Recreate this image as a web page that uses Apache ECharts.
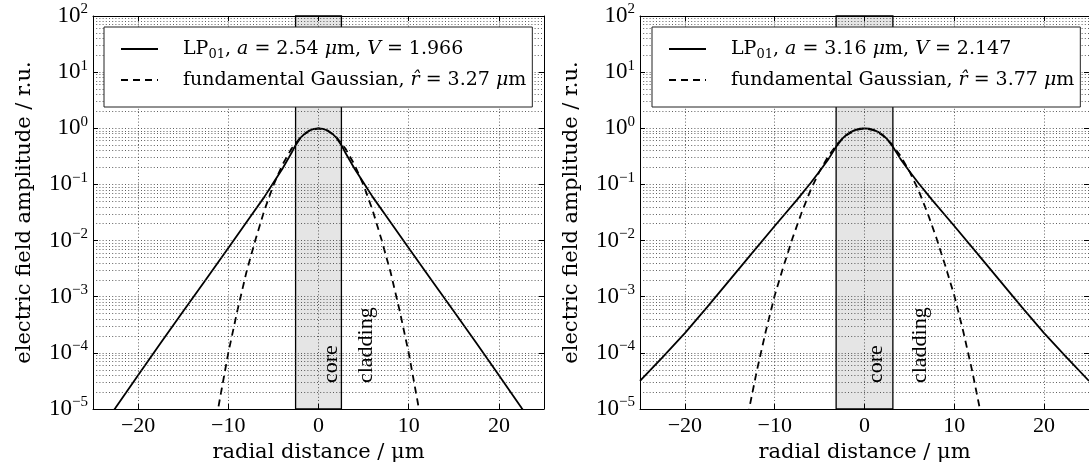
<!DOCTYPE html>
<html><head><meta charset="utf-8">
<script src="https://cdn.jsdelivr.net/npm/echarts@6/dist/echarts.min.js"></script>
<style>html,body{margin:0;padding:0;background:#fff}#c{width:1089px;height:468px}</style>
</head><body><div id="c"></div>
<script>
// ---------------- data ----------------
// left panel: LP01 mode, a = 2.54 um, V = 1.966
const leftR = [-25,-22.5,-20,-17.5,-15,-12.5,-10,-7.5,-6,-5,-4,-3,-2.54,-2,-1.5,-1,-0.5,0,0.5,1,1.5,2,2.54,3,4,5,6,7.5,10,12.5,15,17.5,20,22.5,25];
const leftLP = [2.8e-6,1.05e-5,4.0e-5,1.5e-4,5.5e-4,2.0e-3,7.4e-3,0.0275,0.060,0.107,0.19,0.363,0.50,0.672,0.808,0.913,0.978,1,0.978,0.913,0.808,0.672,0.50,0.363,0.19,0.107,0.060,0.0275,7.4e-3,2.0e-3,5.5e-4,1.5e-4,4.0e-5,1.05e-5,2.8e-6];
// left panel: fundamental Gaussian, r^ = 3.27 um
const leftGaussR = [-12,-11,-10,-9,-8,-7,-6,-5,-4,-3,-2,-1,0,1,2,3,4,5,6,7,8,9,10,11,12];
const leftGauss = [1.6e-6,1.32e-5,1.0e-4,5.6e-4,2.7e-3,0.0102,0.0347,0.0966,0.224,0.431,0.689,0.910,1,0.910,0.689,0.431,0.224,0.0966,0.0347,0.0102,2.7e-3,5.6e-4,1.0e-4,1.32e-5,1.6e-6];
// right panel: LP01 mode, a = 3.16 um, V = 2.147
const rightR = [-25,-22.5,-20,-17.5,-15,-12.5,-10,-7.5,-6,-5,-4,-3.16,-2.5,-2,-1.5,-1,-0.5,0,0.5,1,1.5,2,2.5,3.16,4,5,6,7.5,10,12.5,15,17.5,20,22.5,25];
const rightLP = [3.16e-5,8.3e-5,2.24e-4,6.6e-4,2.0e-3,6.03e-3,0.0182,0.0537,0.106,0.172,0.285,0.468,0.648,0.766,0.865,0.939,0.985,1,0.985,0.939,0.865,0.766,0.648,0.468,0.285,0.172,0.106,0.0537,0.0182,6.03e-3,2.0e-3,6.6e-4,2.24e-4,8.3e-5,3.16e-5];
// right panel: fundamental Gaussian, r^ = 3.77 um
const rightGaussR = [-14,-13,-12,-11,-10,-9,-8,-7,-6,-5,-4,-3,-2,-1,0,1,2,3,4,5,6,7,8,9,10,11,12,13,14];
const rightGauss = [1.1e-6,7.6e-6,4.7e-5,2.4e-4,1.05e-3,3.55e-3,0.0112,0.0316,0.0794,0.172,0.324,0.531,0.755,0.931,1,0.931,0.755,0.531,0.324,0.172,0.0794,0.0316,0.0112,3.55e-3,1.05e-3,2.4e-4,4.7e-5,7.6e-6,1.1e-6];
// core radii
const coreRadius = [2.54, 3.16];
// series names and legend texts
const seriesNames = [
  ['LP01, a = 2.54 μm, V = 1.966', 'fundamental Gaussian, r̂ = 3.27 μm'],
  ['LP01, a = 3.16 μm, V = 2.147', 'fundamental Gaussian, r̂ = 3.77 μm']
];
const legendTexts = {
  'LP01, a = 2.54 μm, V = 1.966': '{sp|}{t|LP}{sub|01}{t|, }{i|a}{t| = 2.54 }{i|μ}{t|m, }{i|V}{t| = 1.966}',
  'fundamental Gaussian, r̂ = 3.27 μm': '{sp|}{t|fundamental Gaussian, }{i|r̂}{t| = 3.27 }{i|μ}{t|m}',
  'LP01, a = 3.16 μm, V = 2.147': '{sp|}{t|LP}{sub|01}{t|, }{i|a}{t| = 3.16 }{i|μ}{t|m, }{i|V}{t| = 2.147}',
  'fundamental Gaussian, r̂ = 3.77 μm': '{sp|}{t|fundamental Gaussian, }{i|r̂}{t| = 3.77 }{i|μ}{t|m}'
};
const regionLabels = ['core', 'cladding'];
const xName = 'radial distance / μm';
const yName = 'electric field amplitude / r.u.';

// ---------------- chart ----------------
const FONT = 'Liberation Serif';
const FONT2 = 'DejaVu Serif';
const zip = (xs, ys) => xs.map((x, i) => [x, ys[i]]);
const minus = v => (v < 0 ? '\u2212' + (-v) : String(v));

const minorLines = [];
for (let e = -5; e < 2; e++) for (let k = 2; k <= 9; k++) minorLines.push({ yAxis: k * Math.pow(10, e) });

const gridStyle = { color: '#2a2a2a', width: 0.75, type: [1, 2.2] };
const grids = [
  { left: 93, top: 16, width: 451, height: 393 },
  { left: 640, top: 16, width: 451, height: 393 }
];
const axLine = { onZero: false, lineStyle: { color: '#000', width: 1 } };
const xAxes = [], yAxes = [];
[0, 1].forEach(g => {
  xAxes.push({
    type: 'value', gridIndex: g, min: -25, max: 25, z: 5,
    name: xName, nameLocation: 'middle', nameGap: 21,
    nameTextStyle: { fontFamily: FONT2, fontSize: 21, color: '#000' },
    axisLine: axLine,
    axisTick: { inside: true, length: 5, lineStyle: { color: '#000' } },
    axisLabel: { margin: 6, fontFamily: FONT, fontSize: 22, color: '#000', formatter: minus, showMinLabel: false, showMaxLabel: false },
    splitLine: { show: true, lineStyle: gridStyle }
  });
  xAxes.push({
    type: 'value', gridIndex: g, min: -25, max: 25, position: 'top', z: 5,
    axisLine: axLine,
    axisTick: { inside: true, length: 5, lineStyle: { color: '#000' } },
    axisLabel: { show: false }, splitLine: { show: false }
  });
  yAxes.push({
    type: 'log', logBase: 10, gridIndex: g, min: 1e-5, max: 1e2, interval: 1, z: 5,
    name: yName, nameLocation: 'middle', nameGap: 58,
    nameTextStyle: { fontFamily: FONT2, fontSize: 21, color: '#000' },
    axisLine: axLine,
    axisTick: { inside: true, length: 5, lineStyle: { color: '#000' } },
    axisLabel: {
      margin: 5, color: '#000',
      formatter: v => { const e = Math.round(Math.log10(v)); return '{b|10}{s|' + minus(e) + '}'; },
      rich: {
        b: { fontFamily: FONT, fontSize: 23, lineHeight: 28, color: '#000' },
        s: { fontFamily: FONT, fontSize: 15, lineHeight: 15, verticalAlign: 'top', color: '#000' }
      }
    },
    splitLine: { show: true, lineStyle: gridStyle }
  });
  yAxes.push({
    type: 'log', logBase: 10, gridIndex: g, min: 1e-5, max: 1e2, interval: 1, position: 'right', z: 5,
    axisLine: axLine,
    axisTick: { inside: true, length: 5, lineStyle: { color: '#000' } },
    axisLabel: { show: false }, splitLine: { show: false }
  });
});

const lpData = [zip(leftR, leftLP), zip(rightR, rightLP)];
const gData = [zip(leftGaussR, leftGauss), zip(rightGaussR, rightGauss)];
const labelPos = [[[1.4, 2.9e-5], [5.27, 2.9e-5]], [[1.25, 2.9e-5], [6.25, 2.9e-5]]];

const series = [];
[0, 1].forEach(g => {
  series.push({
    name: seriesNames[g][0], type: 'line', xAxisIndex: 2 * g, yAxisIndex: 2 * g,
    data: lpData[g], showSymbol: false, symbol: 'none', z: 3,
    itemStyle: { color: '#000' },
    lineStyle: { color: '#000', width: 1.8, type: 'solid' },
    markArea: {
      silent: true,
      itemStyle: { color: '#e5e5e5', borderColor: '#000', borderWidth: 1.3 },
      data: [[{ xAxis: -coreRadius[g] }, { xAxis: coreRadius[g] }]]
    },
    markLine: {
      silent: true, symbol: 'none', label: { show: false }, animation: false, precision: 12,
      lineStyle: gridStyle, data: minorLines
    }
  });
  series.push({
    name: seriesNames[g][1], type: 'line', xAxisIndex: 2 * g, yAxisIndex: 2 * g,
    data: gData[g], showSymbol: false, symbol: 'none', z: 3,
    itemStyle: { color: '#000' },
    lineStyle: { color: '#000', width: 1.8, type: [7, 5] },
    markPoint: {
      silent: true, symbol: 'circle', symbolSize: 0,
      label: {
        show: true, position: 'inside', rotate: 90, align: 'left', verticalAlign: 'middle',
        fontFamily: FONT, fontSize: 22, color: '#000', formatter: p => p.name
      },
      data: regionLabels.map((t, i) => ({ name: t, coord: labelPos[g][i] }))
    }
  });
});

const legendRich = {
  t: { fontFamily: FONT2, fontSize: 19, color: '#000', lineHeight: 24 },
  i: { fontFamily: FONT2, fontSize: 19, fontStyle: 'italic', color: '#000', lineHeight: 24 },
  sub: { fontFamily: FONT2, fontSize: 13, color: '#000', lineHeight: 13, verticalAlign: 'bottom' },
  sp: { width: 20 }
};
const legends = [0, 1].map(g => ({
  data: seriesNames[g], left: g === 0 ? 104 : 652, top: 27, orient: 'vertical',
  itemWidth: 37, itemHeight: 14, itemGap: 7, padding: [10, 6, 15, 16],
  backgroundColor: '#fff', borderColor: '#222', borderWidth: 1, borderRadius: 0,
  selectedMode: false, z: 10,
  itemStyle: { opacity: 0 },
  formatter: n => legendTexts[n],
  textStyle: { fontFamily: FONT2, fontSize: 19, color: '#000', lineHeight: 24, rich: legendRich }
}));

const chart = echarts.init(document.getElementById('c'), null, { renderer: 'canvas' });
chart.setOption({
  animation: false,
  backgroundColor: '#fff',
  grid: grids,
  xAxis: xAxes,
  yAxis: yAxes,
  legend: legends,
  series: series
});
</script></body></html>
